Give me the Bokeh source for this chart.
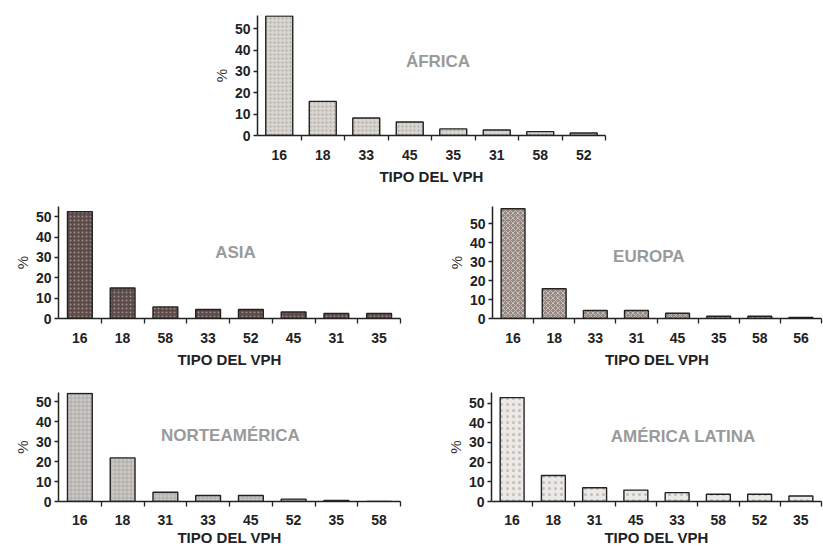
import numpy as np
from bokeh.plotting import figure
from bokeh.layouts import column, row
from bokeh.models import FixedTicker, Label, ColumnDataSource
from bokeh.embed import file_html
from bokeh.resources import INLINE

# ---------------- data ----------------
africa_types = ["16", "18", "33", "45", "35", "31", "58", "52"]
africa_pct = [56, 16, 8.2, 6.3, 3.1, 2.6, 1.8, 1.2]

asia_types = ["16", "18", "58", "33", "52", "45", "31", "35"]
asia_pct = [52.5, 15, 5.7, 4.4, 4.4, 3.2, 2.5, 2.5]

europa_types = ["16", "18", "33", "31", "45", "35", "58", "56"]
europa_pct = [58, 15.7, 4.2, 4.2, 2.8, 1.2, 1.2, 0.6]

na_types = ["16", "18", "31", "33", "45", "52", "35", "58"]
na_pct = [54, 21.8, 4.6, 3.0, 3.0, 1.2, 0.5, 0.0]

la_types = ["16", "18", "31", "45", "33", "58", "52", "35"]
la_pct = [52.8, 13.2, 7.0, 5.8, 4.5, 3.7, 3.7, 2.8]

y_ticks = [0, 10, 20, 30, 40, 50]
x_title = "TIPO DEL VPH"
y_title = "%"

FONT = "Liberation Sans"


def panel(types, pct, title, tx, ty, ymax, width, height, bl, br, bt, bb,
          fill, hatch, hatch_color, hatch_scale, bar_w=0.58, compact=False):
    n = len(types)
    p = figure(width=width, height=height, x_range=(0, n), y_range=(0, ymax),
               output_backend="svg", toolbar_location=None,
               min_border_left=bl, min_border_right=br,
               min_border_top=bt, min_border_bottom=bb)
    p.outline_line_color = None
    p.grid.visible = False
    pos = np.arange(n) + 0.5
    src = ColumnDataSource(dict(x=pos, top=pct, label=types))
    p.vbar(x="x", top="top", width=bar_w, bottom=0, source=src,
           fill_color=fill, line_color="#222222", line_width=1.4,
           hatch_pattern=hatch, hatch_color=hatch_color,
           hatch_scale=hatch_scale, hatch_weight=1)

    # x axis: labels at centers, tick marks at category boundaries
    xa = p.xaxis[0]
    xa.ticker = FixedTicker(ticks=list(pos), minor_ticks=list(range(1, n + 1)))
    xa.major_label_overrides = {float(x): t for x, t in zip(pos, types)}
    xa.major_tick_line_color = None
    xa.major_tick_out = 0
    xa.major_tick_in = 0
    xa.minor_tick_out = 5
    xa.minor_tick_in = 0
    xa.minor_tick_line_color = "#222222"
    xa.minor_tick_line_width = 1.3
    xa.axis_line_color = "#222222"
    xa.axis_line_width = 1.5
    xa.major_label_text_font = FONT
    xa.major_label_text_font_style = "bold"
    xa.major_label_text_font_size = "14px"
    xa.major_label_text_color = "#222222"
    xa.major_label_standoff = 8 if compact else 9
    xa.axis_label = x_title
    xa.axis_label_text_font = FONT
    xa.axis_label_text_font_style = "bold"
    xa.axis_label_text_font_size = "15px"
    xa.axis_label_text_color = "#222222"
    xa.axis_label_standoff = 1 if compact else 5

    ya = p.yaxis[0]
    ya.ticker = FixedTicker(ticks=y_ticks)
    ya.minor_tick_line_color = None
    ya.major_tick_out = 4
    ya.major_tick_in = 0
    ya.major_tick_line_color = "#222222"
    ya.major_tick_line_width = 1.3
    ya.axis_line_color = "#222222"
    ya.axis_line_width = 1.5
    ya.major_label_text_font = FONT
    ya.major_label_text_font_style = "bold"
    ya.major_label_text_font_size = "14px"
    ya.major_label_text_color = "#222222"
    ya.major_label_standoff = 3
    ya.axis_label = y_title
    ya.axis_label_text_font = FONT
    ya.axis_label_text_font_style = "normal"
    ya.axis_label_text_font_size = "15px"
    ya.axis_label_text_color = "#333333"
    ya.axis_label_standoff = 2

    p.add_layout(Label(x=tx, y=ty, text=title, text_align="center",
                       text_baseline="middle", text_font=FONT,
                       text_font_style="bold", text_font_size="17px",
                       text_color="#9a9a9a"))
    return p


africa = panel(africa_types, africa_pct, "ÁFRICA", 4.15, 34.5, 56.2,
               823, 190, 257, 218, 15, 55,
               "#d8d4d0", "dot", "#aeaaa6", 4, bar_w=0.62)

asia = panel(asia_types, asia_pct, "ASIA", 4.14, 32.4, 55.0,
             420, 181, 58, 20, 16, 53,
             "#5c4a48", "dot", "#9d8f8b", 4)

europa = panel(europa_types, europa_pct, "EUROPA", 3.8, 32.7, 59.2,
               403, 181, 72, 2, 12, 53,
               "#968983", "diagonal_cross", "#c9bfb9", 5)

na = panel(na_types, na_pct, "NORTEAMÉRICA", 4.02, 33.2, 54.5,
           420, 178, 58, 20, 21, 48,
           "#cdc9c6", "cross", "#aeaaa7", 4, compact=True)

la = panel(la_types, la_pct, "AMÉRICA LATINA", 4.65, 33.2, 55.4,
           403, 178, 71, 2, 19, 48,
           "#ece8e6", "dot", "#c2bdb9", 6, compact=True)

layout = column(africa, row(asia, europa), row(na, la))

open("out.html", "w").write(file_html(layout, INLINE))
